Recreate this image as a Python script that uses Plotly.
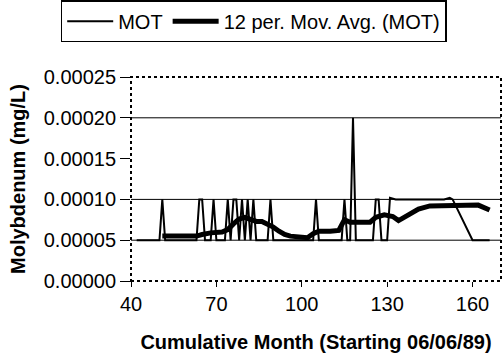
import plotly.graph_objects as go

# MOT readings (cumulative month, mg/L)
mot_month = [42, 50, 51, 52, 63, 64, 65, 66, 68, 69, 70, 73, 74, 75, 76, 77, 78,
             79, 80, 81, 82, 83, 84, 88, 89, 90, 104, 105, 106, 114, 115, 116,
             117, 118, 119, 125, 126, 127, 128, 130, 131, 133, 150, 152, 153,
             160, 163, 166]
mot_value = [0.00005, 0.00005, 0.0001, 0.00005, 0.00005, 0.0001, 0.0001, 0.00005,
             0.00005, 0.0001, 0.00005, 0.00005, 0.0001, 0.00005, 0.0001, 0.0001,
             0.00005, 0.0001, 0.00005, 0.0001, 0.00005, 0.0001, 0.00005, 0.00005,
             0.0001, 0.00005, 0.00005, 0.0001, 0.00005, 0.00005, 0.0001, 0.00005,
             0.00005, 0.0002, 0.00005, 0.00005, 0.0001, 0.0001, 0.00005, 0.00005,
             0.000102, 0.0001, 0.0001, 0.000102, 0.0001, 0.00005, 0.00005, 0.00005]

# 12 per. moving average
ma_month = [51, 55, 60, 63, 65, 68, 72, 74, 76, 78, 80, 82, 84, 86, 88, 90, 92,
            94, 96, 100, 102, 104, 106, 110, 113, 115, 117, 124, 126, 129, 132,
            134, 138, 141, 145, 152, 162, 166]
ma_value = [0.000055, 0.000055, 0.000055, 0.000055, 0.000057, 0.000059, 0.00006,
            0.000063, 0.00007, 0.000076, 0.000078, 0.000076, 0.000073, 0.000073,
            0.00007, 0.000066, 0.000061, 0.000057, 0.000055, 0.000054, 0.000053,
            0.000058, 0.000061, 0.000061, 0.000062, 0.000075, 0.000072, 0.000072,
            0.000078, 0.000081, 0.000079, 0.000074, 0.000082, 0.000088, 0.000092,
            0.000093, 0.000093, 0.000087]

grid_levels = [0.00005, 0.0001, 0.0002]

font = 'Liberation Sans, Arial, sans-serif'

fig = go.Figure()
fig.add_trace(go.Scatter(x=mot_month, y=mot_value, mode='lines', name='MOT',
                         line=dict(color='black', width=2)))
fig.add_trace(go.Scatter(x=ma_month, y=ma_value, mode='lines',
                         name='12 per. Mov. Avg. (MOT)',
                         line=dict(color='black', width=5)))

shapes = []
for g in grid_levels:
    shapes.append(dict(type='line', xref='paper', yref='y', x0=0, x1=1, y0=g, y1=g,
                       line=dict(color='black', width=1), layer='below'))
shapes.append(dict(type='rect', xref='paper', yref='paper', x0=0, x1=1, y0=0, y1=1,
                   line=dict(color='black', width=2, dash='dot')))

fig.update_layout(
    width=503, height=364,
    margin=dict(l=131, r=2, t=76, b=83),
    paper_bgcolor='white', plot_bgcolor='white',
    font=dict(family=font, size=20, color='black'),
    showlegend=True,
    legend=dict(orientation='h', x=-0.19, xanchor='left', y=1.37, yanchor='top',
                bordercolor='black', borderwidth=1.5, bgcolor='white',
                font=dict(size=20), itemwidth=46, tracegroupgap=0),
    shapes=shapes,
    xaxis=dict(range=[40, 170], tick0=40, dtick=30, showgrid=False, zeroline=False,
               ticks='outside', ticklen=5, tickcolor='black', showline=False,
               title=dict(text='<b>Cumulative Month (Starting 06/06/89)</b>',
                          font=dict(size=20), standoff=20)),
    yaxis=dict(range=[0, 0.00025], dtick=0.00005, tickformat='.5f', showgrid=False,
               zeroline=False, ticks='outside', ticklen=10, tickcolor='black',
               showline=False,
               title=dict(text='<b>Molybdenum (mg/L)</b>', font=dict(size=20),
                          standoff=12)),
)

fig.write_html("out.html", config={'displayModeBar': False},
               post_script="document.body.style.margin='0';")
